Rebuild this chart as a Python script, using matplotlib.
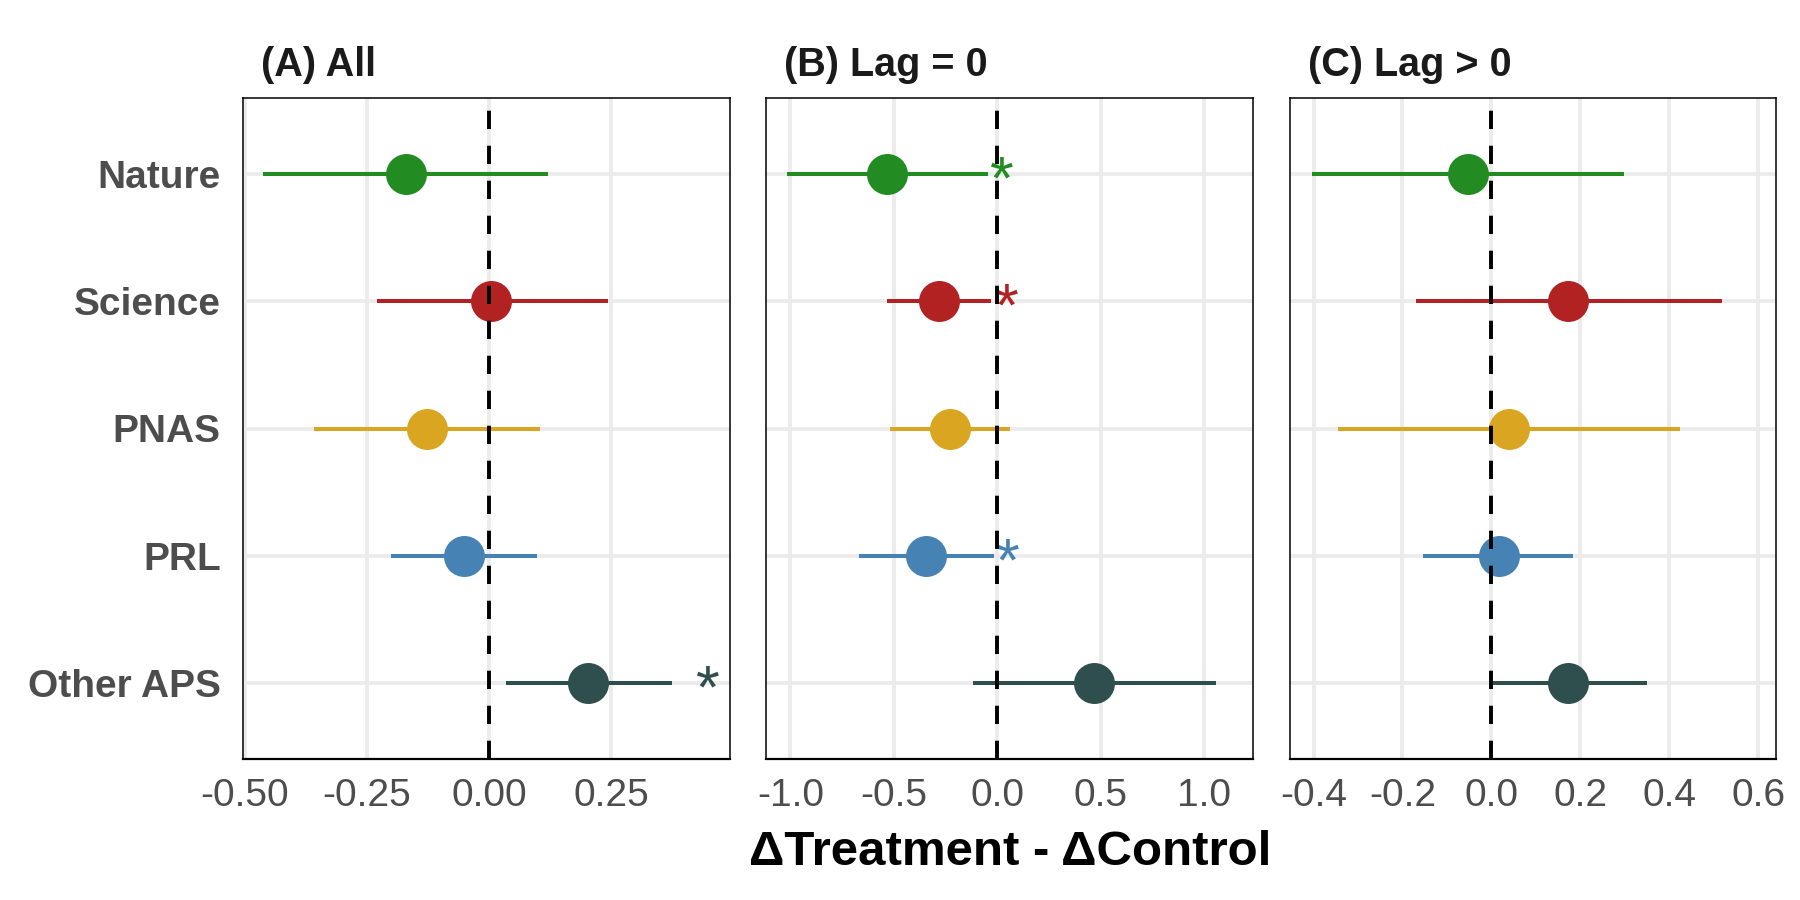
import matplotlib
matplotlib.use("Agg")
import matplotlib.pyplot as plt
from matplotlib.transforms import offset_copy

plt.rcParams['font.family'] = ['Liberation Sans', 'DejaVu Sans']

journals = ["Nature", "Science", "PNAS", "PRL", "Other APS"]
colors = ["#228B22", "#B22222", "#DAA520", "#4682B4", "#2F4F4F"]

titles = ["(A) All", "(B) Lag = 0", "(C) Lag > 0"]

# estimates and CI per panel
est_all = [-0.170, 0.005, -0.127, -0.051, 0.204]
lo_all = [-0.462, -0.230, -0.358, -0.200, 0.035]
hi_all = [0.122, 0.244, 0.105, 0.099, 0.375]

est_lag0 = [-0.532, -0.281, -0.229, -0.345, 0.466]
lo_lag0 = [-1.015, -0.532, -0.518, -0.671, -0.120]
hi_lag0 = [-0.047, -0.029, 0.063, -0.018, 1.054]

est_lagp = [-0.053, 0.173, 0.040, 0.016, 0.172]
lo_lagp = [-0.404, -0.170, -0.344, -0.153, 0.000]
hi_lagp = [0.298, 0.518, 0.424, 0.183, 0.349]

# significance asterisk positions (None = no asterisk)
star_all = [None, None, None, None, 0.449]
star_lag0 = [0.020, 0.046, None, 0.053, None]
star_lagp = [None, None, None, None, None]

xticks_all = [-0.50, -0.25, 0.00, 0.25]
xticklabels_all = ["-0.50", "-0.25", "0.00", "0.25"]
xticks_lag0 = [-1.0, -0.5, 0.0, 0.5, 1.0]
xticklabels_lag0 = ["-1.0", "-0.5", "0.0", "0.5", "1.0"]
xticks_lagp = [-0.4, -0.2, 0.0, 0.2, 0.4, 0.6]
xticklabels_lagp = ["-0.4", "-0.2", "0.0", "0.2", "0.4", "0.6"]

xlims = [(-0.504, 0.494), (-1.118, 1.235), (-0.453, 0.640)]

panels = [
    (est_all, lo_all, hi_all, star_all, xticks_all, xticklabels_all),
    (est_lag0, lo_lag0, hi_lag0, star_lag0, xticks_lag0, xticklabels_lag0),
    (est_lagp, lo_lagp, hi_lagp, star_lagp, xticks_lagp, xticklabels_lagp),
]

W, H = 1800, 900
fig = plt.figure(figsize=(18, 9), dpi=100)

ax_px = [(243, 730), (766, 1253), (1290, 1776)]
top_px, bot_px = 98, 759

ypos = list(range(len(journals), 0, -1))
star_fs = 44

for i, (est, lo, hi, star, xt, xtl) in enumerate(panels):
    l, r = ax_px[i]
    ax = fig.add_axes([l / W, 1 - bot_px / H, (r - l) / W, (bot_px - top_px) / H])
    ax.set_xlim(*xlims[i])
    ax.set_ylim(0.4, len(journals) + 0.6)
    ax.set_xticks(xt)
    ax.set_xticklabels(xtl)
    ax.set_yticks(ypos)
    if i == 0:
        ax.set_yticklabels(journals, fontweight='bold', color='#4D4D4D', fontsize=28)
    else:
        ax.set_yticklabels([])
    ax.tick_params(axis='x', length=0, pad=14, labelsize=28, labelcolor='#4D4D4D')
    ax.tick_params(axis='y', length=0, pad=16)
    ax.grid(True, color='#EBEBEB', linewidth=2.7, zorder=0)
    ax.set_axisbelow(True)
    for sp in ax.spines.values():
        sp.set_color('black')
        sp.set_linewidth(1.1)
    ax.spines['bottom'].set_linewidth(1.6)
    star_tr = offset_copy(ax.transData, fig=fig, x=0, y=-0.40 * star_fs, units='points')
    for j in range(len(journals)):
        ax.plot([lo[j], hi[j]], [ypos[j], ypos[j]], color=colors[j], linewidth=2.9,
                solid_capstyle='butt', zorder=2)
        ax.plot(est[j], ypos[j], 'o', color=colors[j], markersize=29.5,
                markeredgewidth=0, zorder=3)
        if star[j] is not None:
            ax.text(star[j], ypos[j], "*", color=colors[j], fontsize=star_fs,
                    fontweight='normal', ha='center', va='baseline', zorder=4,
                    transform=star_tr)
    ax.axvline(0, color='black', linewidth=2.8, linestyle=(0, (4.7, 4.3)), zorder=5)
    fig.text((l + 18) / W, 1 - 76 / H, titles[i], fontsize=28.5, fontweight='bold',
             color='#1A1A1A', ha='left', va='baseline')

fig.text(1010 / W, 1 - 865 / H, "ΔTreatment - ΔControl", fontsize=35.5,
         fontweight='bold', color='black', ha='center', va='baseline')

fig.savefig("out.png", dpi=100, facecolor='white')
